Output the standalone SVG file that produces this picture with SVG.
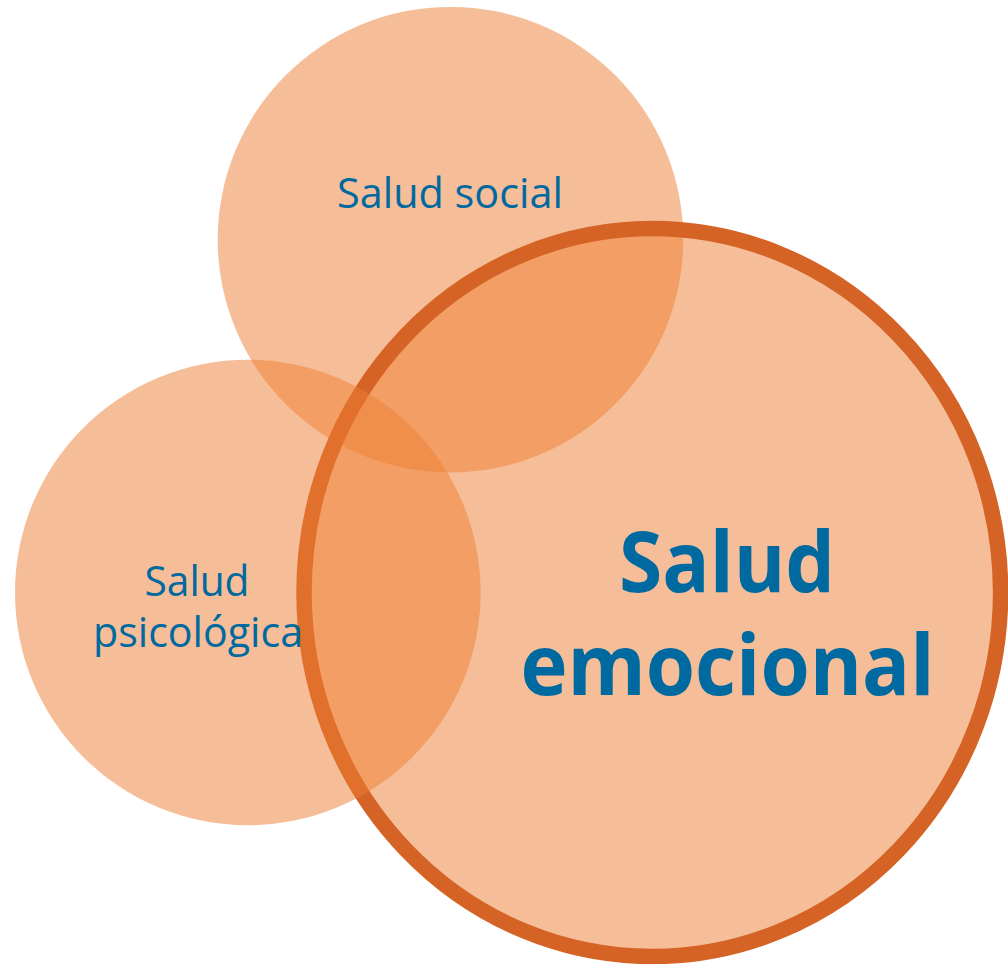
<svg xmlns="http://www.w3.org/2000/svg" width="1008" height="964" viewBox="0 0 1008 964">
  <style>
    .fill { fill: #ED7D31; fill-opacity: 0.5; }
    .lbl { font-family: "Open Sans", "Noto Sans", sans-serif; fill: #0069A0; text-anchor: middle; }
    .small { font-size: 42.5px; font-weight: 400; }
    .big { font-size: 85px; font-weight: 700; }
  </style>
  <rect width="1008" height="964" fill="#FFFFFF"/>
  <g id="node-social">
    <circle class="fill" cx="450.5" cy="239.7" r="232.8"/>
    <text class="lbl small" x="450" y="208" textLength="226" lengthAdjust="spacingAndGlyphs">Salud social</text>
  </g>
  <g id="node-emocional">
    <ellipse class="fill" cx="652.3" cy="592.5" rx="348.3" ry="364" stroke="#D56326" stroke-width="15.5"/>
    <text class="lbl big" x="727" y="592" textLength="216" lengthAdjust="spacingAndGlyphs">Salud</text>
    <text class="lbl big" x="727.5" y="695" textLength="414" lengthAdjust="spacingAndGlyphs">emocional</text>
  </g>
  <g id="node-psicologica">
    <circle class="fill" cx="247.8" cy="592.5" r="232.8"/>
    <text class="lbl small" x="197" y="596" textLength="105" lengthAdjust="spacingAndGlyphs">Salud</text>
    <text class="lbl small" x="198" y="647" textLength="210" lengthAdjust="spacingAndGlyphs">psicológica</text>
  </g>
  <g id="connectors"></g>
</svg>
